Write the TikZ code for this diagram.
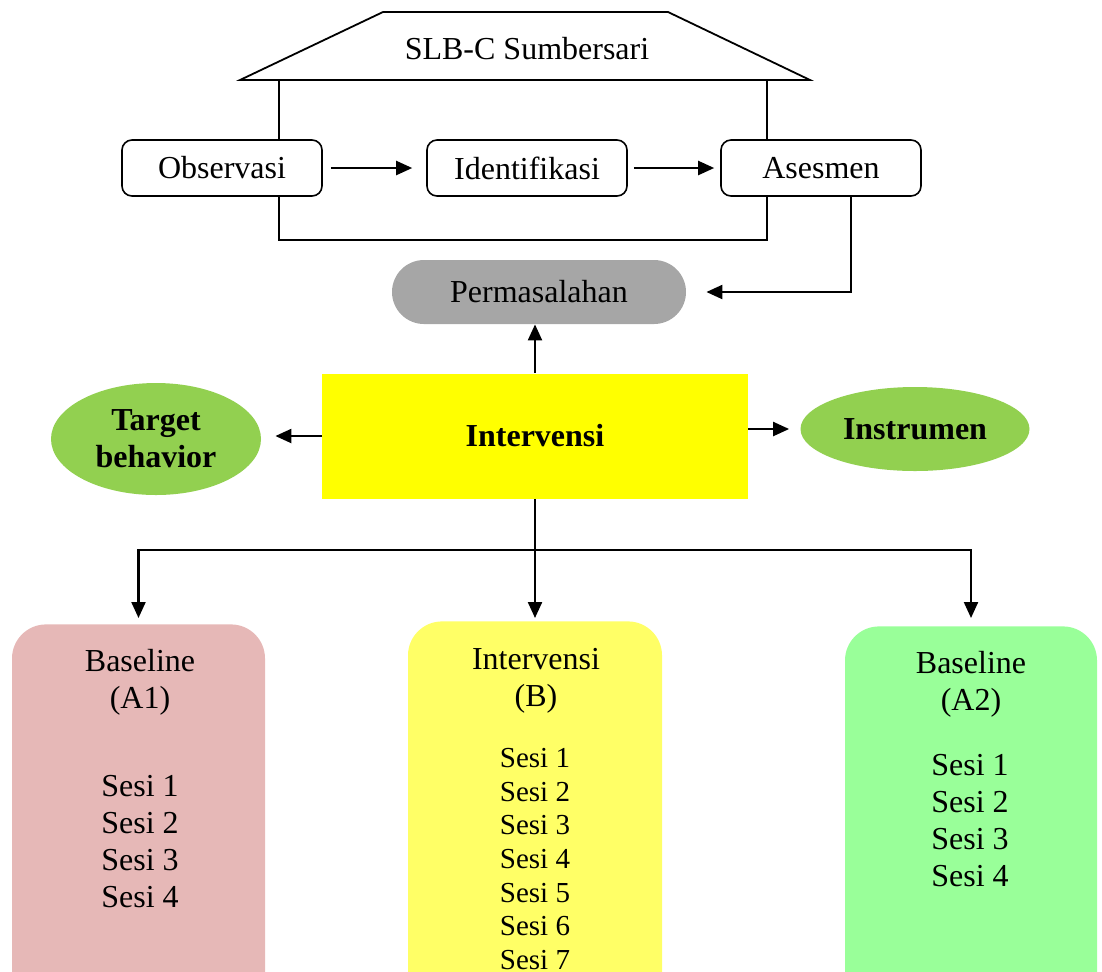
\documentclass[tikz,border=0pt]{standalone}
\usepackage{fontspec}
\setmainfont{Liberation Serif}
\usetikzlibrary{arrows.meta,calc,positioning,shapes.geometric}
\newcommand\bodysize{\fontsize{16}{18.5}\selectfont}
\tikzset{
  stagebox/.style = {draw, rounded corners=5pt, fill=white, line width=0.8pt,
  minimum width=100pt, minimum height=28pt, font=\bodysize},
  oval_n/.style = {ellipse, fill=my_green, align=center, inner sep=0pt,
  font=\bodysize\bfseries},
  phase_n/.style = {rounded corners=17pt, anchor=north, minimum height=200pt},
  txt/.style = {align=center, inner sep=0pt, font=\bodysize}
}
\definecolor{my_gray}{RGB}{166, 166, 166}
\definecolor{my_green}{RGB}{146, 208, 80}
\definecolor{my_yellow}{RGB}{255, 255, 0}
\definecolor{my_pink}{RGB}{230, 184, 183}
\definecolor{my_lightyellow}{RGB}{255, 255, 102}
\definecolor{my_lightgreen}{RGB}{153, 255, 153}
\begin{document}
\begin{tikzpicture}[x=0.5pt, y=-0.5pt,
        arr/.style={-{Triangle[length=8pt,width=7pt]}, line width=1.1pt}]
    \useasboundingbox (0,0) rectangle (1102,971);
    \clip (0,0) rectangle (1102,971);
    % the school
    \draw[line width=0.9pt] (240,80) -- (383,12) -- (668,12) -- (810,80) -- cycle;
    \node[txt] (school) at (527,49) {SLB-C Sumbersari};
    \draw[line width=0.9pt] (279,80) rectangle (767,240);
    \node[stagebox] (obs) at (222,168) {Observasi};
    \node[stagebox] (ident) at (527,168) {Identifikasi};
    \node[stagebox] (ases) at (821,168) {Asesmen};
    \draw[arr, shorten <=4pt, shorten >=7pt] (obs) -- (ident);
    \draw[arr, shorten <=3pt, shorten >=3pt] (ident) -- (ases);
    % problem and intervention
    \node[txt, fill=my_gray, rounded corners=16pt, minimum width=147pt,
      minimum height=32pt] (perm) at (539,292) {Permasalahan};
    \draw[arr, shorten >=10pt] ([xshift=15pt]ases.south) |- (perm.east);
    \node[txt, fill=my_yellow, minimum width=213pt, minimum height=62.5pt,
      font=\bodysize\bfseries] (interv) at (535,436) {Intervensi};
    \draw[arr] (interv.north) -- (interv.north |- perm.south);
    \node[oval_n, minimum width=105pt, minimum height=56pt] (target) at (156,439)
      {\raisebox{-2pt}{Target}\\\raisebox{-2pt}{behavior}};
    \node[oval_n, minimum width=114.5pt, minimum height=42pt] (instr) at (915,429)
      {Instrumen};
    \draw[arr, shorten >=7pt] (interv.west) -- (interv.west -| target.east);
    \draw[arr, shorten >=5.5pt] (interv.east |- instr.west) -- (instr.west);
    % phases
    \node[phase_n, fill=my_pink, minimum width=126.5pt] (a1box) at (138.5,624) {};
    \node[phase_n, fill=my_lightyellow, minimum width=127pt] (bbox) at (535,621) {};
    \node[phase_n, fill=my_lightgreen, minimum width=126pt] (a2box) at (971,626) {};
    \coordinate (bus) at (535,550);
    \draw[line width=1.1pt] (interv.south) -- (bus);
    \draw[arr, shorten >=3pt] (bus) -| (a1box.north);
    \draw[arr, shorten >=1.5pt] (bus) -- (bbox.north);
    \draw[arr, shorten >=4pt] (bus) -| (a2box.north);
    \node[txt] (a1head) at (140,682) {Baseline\\(A1)};
    \node[txt] (bhead) at (536,681) {Intervensi\\(B)};
    \node[txt] (a2head) at (971,684) {Baseline\\(A2)};
    \foreach \i in {1,...,4}
      \node[txt] (a1s\i) at (140,{786+37*(\i-1)}) {Sesi \i};
    \foreach \i in {1,...,7}
      \node[txt, font=\fontsize{14.5}{17}\selectfont] (bs\i) at (535,{758+33.7*(\i-1)}) {Sesi \i};
    \foreach \i in {1,...,4}
      \node[txt] (a2s\i) at (970,{765+37*(\i-1)}) {Sesi \i};
\end{tikzpicture}
\end{document}
